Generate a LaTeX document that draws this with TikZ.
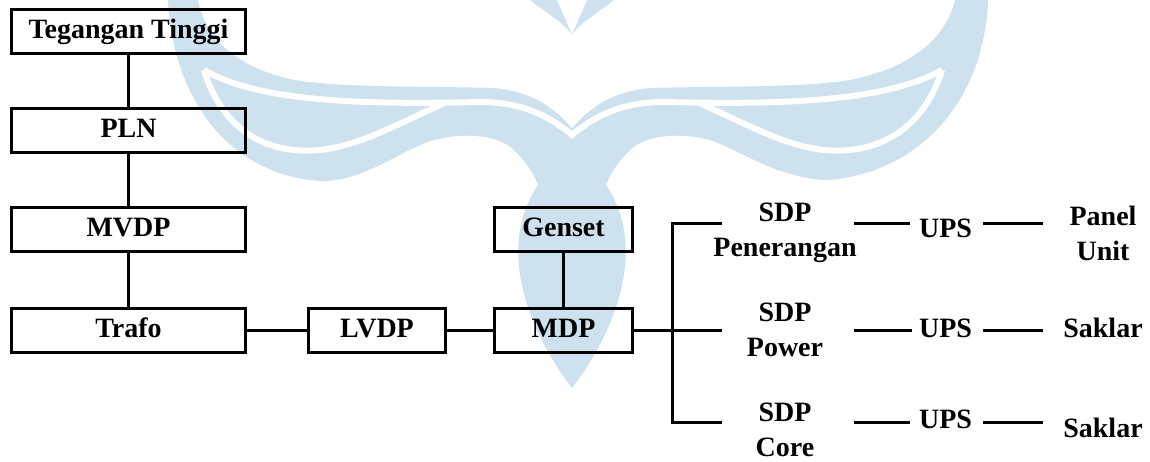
\documentclass[tikz,border=0pt]{standalone}
\usepackage{fontspec}
\setmainfont{Liberation Serif}
\definecolor{wm}{RGB}{205,225,238}
\begin{document}
\begin{tikzpicture}[x=1pt,y=-1pt,
  txt/.style={font=\bfseries\fontsize{28}{34.5}\selectfont},
  box/.style={txt, draw, line width=3pt, inner sep=0pt, text height=18.5pt, text depth=4pt},
  wbox/.style={box, minimum width=234pt, minimum height=44pt},
  sbox/.style={box, minimum width=138pt, minimum height=44pt},
  lbl/.style={txt, inner sep=0pt, align=center},
  wire/.style={line width=3pt},
  gap/.style={draw=white, line width=6pt}]
\useasboundingbox (0,0) rectangle (1150,461);
% watermark
\fill[wm] (572,128) .. controls (590,108) and (610,92) .. (650,88)
  .. controls (720,86) and (800,88) .. (850,80)
  .. controls (910,68) and (945,40) .. (955,0) -- (988,0)
  .. controls (985,90) and (930,170) .. (830,180)
  .. controls (780,180) and (740,150) .. (710,140)
  .. controls (680,132) and (645,135) .. (630,150)
  .. controls (615,165) and (610,175) .. (606,185)
  .. controls (644,240) and (624,320) .. (572,388)
  .. controls (520,320) and (500,240) .. (538,185)
  .. controls (534,175) and (529,165) .. (514,150)
  .. controls (499,135) and (464,132) .. (434,140)
  .. controls (400,150) and (364,182) .. (320,181)
  .. controls (222,174) and (172,90) .. (168,0) -- (198,0)
  .. controls (206,40) and (238,68) .. (294,80)
  .. controls (344,88) and (424,86) .. (494,88)
  .. controls (534,92) and (554,108) .. (572,128) -- cycle;
\fill[wm] (530,0) .. controls (545,12) and (563,22) .. (572,35)
  .. controls (566,20) and (560,8) .. (557,0) -- cycle;
\fill[wm] (614,0) .. controls (599,12) and (581,22) .. (572,35)
  .. controls (578,20) and (584,8) .. (587,0) -- cycle;
\draw[gap] (204,70) .. controls (264,105) and (384,104) .. (481,102)
  .. controls (524,102) and (552,118) .. (572,135)
  .. controls (592,118) and (620,102) .. (663,102)
  .. controls (760,104) and (880,105) .. (942,70);
\draw[gap] (699,103) .. controls (760,130) and (800,155) .. (850,150)
  .. controls (900,145) and (930,110) .. (942,70);
\draw[gap] (445,103) .. controls (384,130) and (344,155) .. (294,150)
  .. controls (244,145) and (216,110) .. (204,70);
% boxes
\node[wbox] (tt) at (128.5,31.5) {Tegangan Tinggi};
\node[wbox] (pln) at (128.5,130.5) {PLN};
\node[wbox] (mvdp) at (128.5,229.5) {MVDP};
\node[wbox] (trafo) at (128.5,330) {Trafo};
\node[box, minimum width=137pt, minimum height=44pt] (lvdp) at (377,330) {LVDP};
\node[sbox] (mdp) at (563.5,330) {MDP};
\node[sbox] (genset) at (563.5,229.5) {Genset};
% labels
\node[lbl, anchor=north] (sdp1) at (785,203) {SDP\\Penerangan};
\node[lbl, anchor=north] (sdp2) at (785,303) {SDP\\Power};
\node[lbl, anchor=north] (sdp3) at (785,403) {SDP\\Core};
\node[lbl, anchor=base] (ups1) at (945.5,237) {UPS};
\node[lbl, anchor=base] (ups2) at (945.5,337) {UPS};
\node[lbl, anchor=base] (ups3) at (945.5,428) {UPS};
\node[lbl, anchor=north] (panel) at (1103,206) {Panel\\Unit};
\node[lbl, anchor=base] (sak1) at (1103,337) {Saklar};
\node[lbl, anchor=base] (sak2) at (1103,437) {Saklar};
% coordinates
\coordinate (b1) at (672,223);
\coordinate (b3) at (672,422);
\coordinate (b1e) at (722,223);
\coordinate (b2e) at (722,330);
\coordinate (b3e) at (722,422);
\coordinate (s1a) at (854,223); \coordinate (s1b) at (910,223);
\coordinate (s1c) at (983,223); \coordinate (s1d) at (1043,223);
\coordinate (s2a) at (854,330); \coordinate (s2b) at (912,330);
\coordinate (s2c) at (983,330); \coordinate (s2d) at (1043,330);
\coordinate (s3a) at (854,422); \coordinate (s3b) at (910,422);
\coordinate (s3c) at (983,422); \coordinate (s3d) at (1043,422);
% wires
\draw[wire] (tt) -- (pln);
\draw[wire] (pln) -- (mvdp);
\draw[wire] (mvdp) -- (trafo);
\draw[wire] (trafo) -- (lvdp);
\draw[wire] (lvdp) -- (mdp);
\draw[wire] (genset) -- (mdp);
\draw[wire] (mdp) -- (b2e);
\draw[wire] (b1e) -- (b1) -- (b3) -- (b3e);
\draw[wire] (s1a) -- (s1b); \draw[wire] (s1c) -- (s1d);
\draw[wire] (s2a) -- (s2b); \draw[wire] (s2c) -- (s2d);
\draw[wire] (s3a) -- (s3b); \draw[wire] (s3c) -- (s3d);
\end{tikzpicture}
\end{document}
